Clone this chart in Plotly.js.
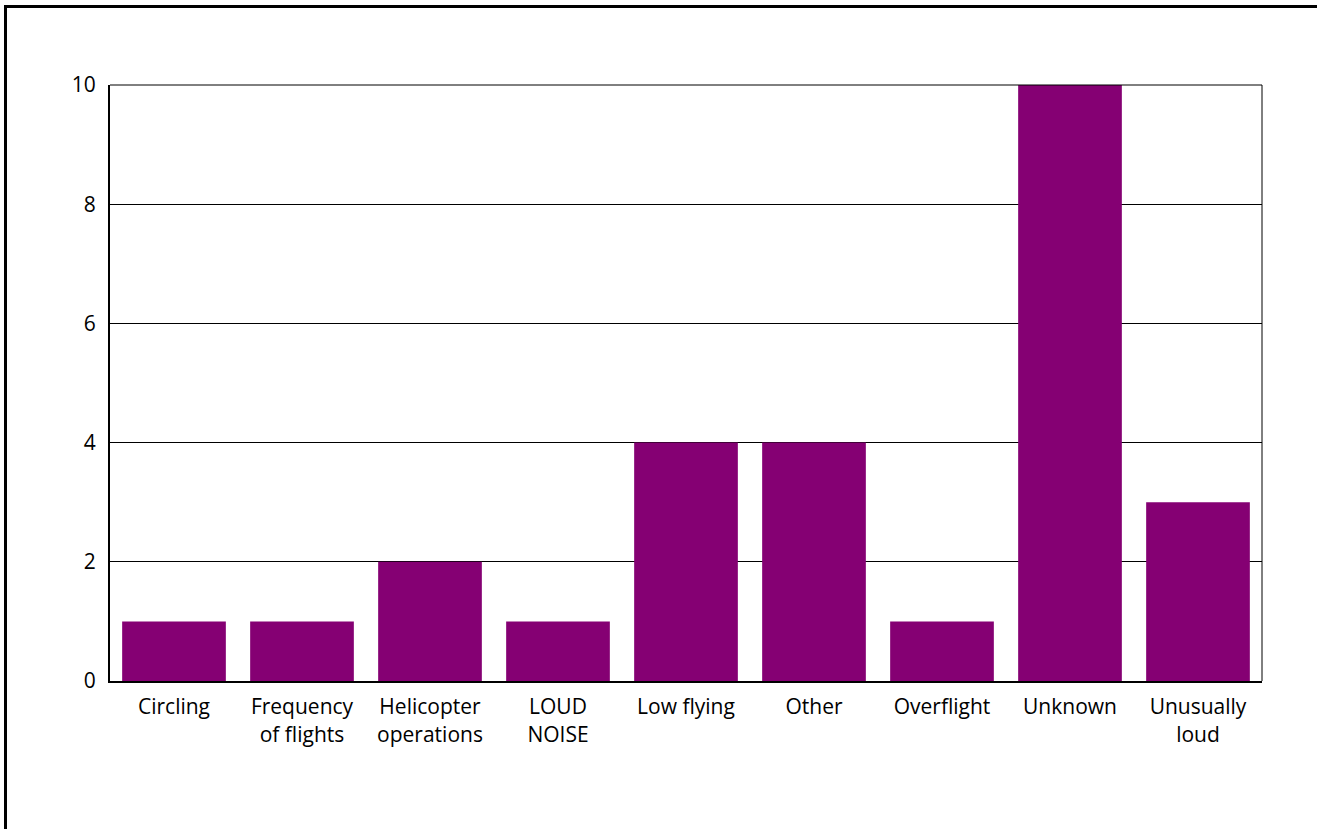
<!DOCTYPE html>
<html>
<head>
<meta charset="utf-8">
<script src="https://cdn.plot.ly/plotly-3.0.1.min.js"></script>
<style>
  html, body { margin: 0; padding: 0; width: 1317px; height: 829px; overflow: hidden; background: #fff; }
  #frame { position: absolute; left: 4px; top: 5px; width: 1400px; height: 900px; border-left: 3px solid #000; border-top: 3px solid #000; box-sizing: border-box; pointer-events: none; z-index: 5; }
  #chart { position: absolute; left: 0; top: 0; width: 1317px; height: 829px; }
</style>
</head>
<body>
<div id="chart"></div>
<div id="frame"></div>
<script>
const categories = ["Circling", "Frequency<br>of flights", "Helicopter<br>operations", "LOUD<br>NOISE", "Low flying", "Other", "Overflight", "Unknown", "Unusually<br>loud"];
const counts = [1, 1, 2, 1, 4, 4, 1, 10, 3];
const yTicks = [0, 2, 4, 6, 8, 10];

const FONT = "Open Sans, Lato, sans-serif";

Plotly.newPlot("chart", [{
  type: "bar",
  x: categories,
  y: counts,
  marker: { color: "#850073", line: { width: 0 } },
  hoverinfo: "x+y"
}], {
  width: 1317,
  height: 829,
  margin: { l: 110, r: 55, t: 85, b: 148, pad: 0 },
  paper_bgcolor: "#fff",
  plot_bgcolor: "#fff",
  bargap: 0.19,
  showlegend: false,
  font: { family: FONT, size: 21, color: "#000" },
  xaxis: {
    type: "category",
    showgrid: false,
    showline: true,
    linecolor: "#000",
    linewidth: 2,
    mirror: false,
    ticks: "",
    tickfont: { family: FONT, size: 21, color: "#000" },
    ticklabelstandoff: 6,
    automargin: false
  },
  yaxis: {
    range: [0, 10],
    tickvals: yTicks,
    showgrid: true,
    gridcolor: "#000",
    gridwidth: 1,
    zeroline: false,
    showline: true,
    linecolor: "#000",
    linewidth: 2,
    ticks: "",
    ticklabelstandoff: 8,
    tickfont: { family: FONT, size: 21, color: "#000" },
    automargin: false
  },
  shapes: [
    { type: "line", xref: "paper", yref: "paper", x0: 0, x1: 1, y0: 1, y1: 1, line: { color: "#000", width: 1 } },
    { type: "line", xref: "paper", yref: "paper", x0: 1, x1: 1, y0: 0, y1: 1, line: { color: "#000", width: 1 } }
  ]
}, { displayModeBar: false, staticPlot: true });
</script>
</body>
</html>
